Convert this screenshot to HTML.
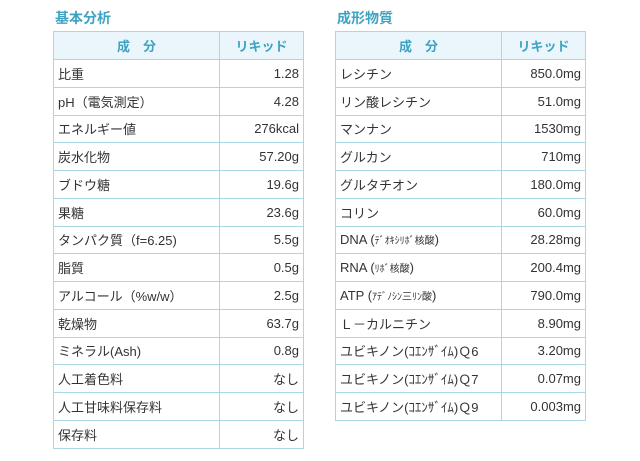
<!DOCTYPE html>
<html><head><meta charset="utf-8"><style>
body{margin:0;width:640px;height:461px;background:#fff;font-family:"Liberation Sans","Noto Sans CJK JP",sans-serif;position:relative;overflow:hidden}
.t{position:absolute;color:#3fa3c3;font-weight:bold;font-size:14px;top:8px}
table{position:absolute;top:31px;border-collapse:collapse;font-size:13px;color:#333}
td,th{border:1px solid #a9d7e6;height:27.75px;padding:0 4px;box-sizing:border-box}
th{background:#eaf6fb;color:#3fa3c3;font-weight:bold;height:28px}
td.v{text-align:right}
</style></head><body>
<div class="t" style="left:55px">基本分析</div>
<div class="t" style="left:337px">成形物質</div>
<table style="left:53px;width:251px">
<tr><th style="width:166px">成　分</th><th>リキッド</th></tr>
<tr><td>比重</td><td class="v">1.28</td></tr>
<tr><td>pH（電気測定）</td><td class="v">4.28</td></tr>
<tr><td>エネルギー値</td><td class="v">276kcal</td></tr>
<tr><td>炭水化物</td><td class="v">57.20g</td></tr>
<tr><td>ブドウ糖</td><td class="v">19.6g</td></tr>
<tr><td>果糖</td><td class="v">23.6g</td></tr>
<tr><td>タンパク質（f=6.25)</td><td class="v">5.5g</td></tr>
<tr><td>脂質</td><td class="v">0.5g</td></tr>
<tr><td>アルコール（%w/w）</td><td class="v">2.5g</td></tr>
<tr><td>乾燥物</td><td class="v">63.7g</td></tr>
<tr><td>ミネラル(Ash)</td><td class="v">0.8g</td></tr>
<tr><td>人工着色料</td><td class="v">なし</td></tr>
<tr><td>人工甘味料保存料</td><td class="v">なし</td></tr>
<tr><td>保存料</td><td class="v">なし</td></tr>
</table>
<table style="left:335px;width:251px">
<tr><th style="width:166px">成　分</th><th>リキッド</th></tr>
<tr><td>レシチン</td><td class="v">850.0mg</td></tr>
<tr><td>リン酸レシチン</td><td class="v">51.0mg</td></tr>
<tr><td>マンナン</td><td class="v">1530mg</td></tr>
<tr><td>グルカン</td><td class="v">710mg</td></tr>
<tr><td>グルタチオン</td><td class="v">180.0mg</td></tr>
<tr><td>コリン</td><td class="v">60.0mg</td></tr>
<tr><td>DNA (<span style="font-size:10px">ﾃﾞｵｷｼﾘﾎﾞ核酸</span>)</td><td class="v">28.28mg</td></tr>
<tr><td>RNA (<span style="font-size:10px">ﾘﾎﾞ核酸</span>)</td><td class="v">200.4mg</td></tr>
<tr><td>ATP (<span style="font-size:10px">ｱﾃﾞﾉｼﾝ三ﾘﾝ酸</span>)</td><td class="v">790.0mg</td></tr>
<tr><td>Ｌ－カルニチン</td><td class="v">8.90mg</td></tr>
<tr><td>ユビキノン(ｺｴﾝｻﾞｲﾑ)Ｑ6</td><td class="v">3.20mg</td></tr>
<tr><td>ユビキノン(ｺｴﾝｻﾞｲﾑ)Ｑ7</td><td class="v">0.07mg</td></tr>
<tr><td>ユビキノン(ｺｴﾝｻﾞｲﾑ)Ｑ9</td><td class="v">0.003mg</td></tr>
</table>
</body></html>
